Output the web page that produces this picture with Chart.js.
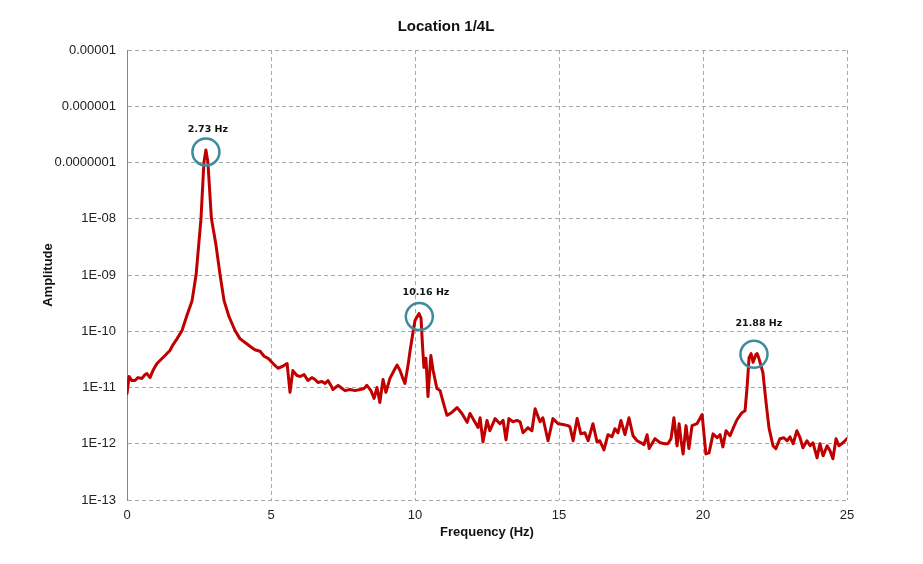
<!DOCTYPE html>
<html>
<head>
<meta charset="utf-8">
<script src="https://cdn.jsdelivr.net/npm/chart.js@4/dist/chart.umd.min.js"></script>
<style>
  html, body { margin: 0; padding: 0; background: #ffffff; }
  #wrap { width: 923px; height: 564px; position: relative; }
</style>
</head>
<body>
<div id="wrap"><canvas id="c" width="923" height="564"></canvas></div>
<script>
const chartTitle = "Location 1/4L";
const xTitle = "Frequency (Hz)";
const yTitle = "Amplitude";

const freqs = [
  0.00,0.07,0.17,0.28,0.38,0.52,0.63,0.69,0.80,0.90,
  1.04,1.18,1.32,1.49,1.60,1.74,1.91,2.08,2.26,2.40,
  2.57,2.67,2.74,2.81,2.93,3.09,3.23,3.37,3.54,3.75,
  3.92,4.10,4.27,4.44,4.62,4.76,4.90,5.07,5.24,5.42,
  5.56,5.66,5.76,5.90,6.01,6.15,6.28,6.42,6.53,6.63,
  6.77,6.88,6.98,7.08,7.15,7.33,7.47,7.57,7.74,7.92,
  8.09,8.23,8.33,8.47,8.58,8.68,8.78,8.89,8.99,9.13,
  9.27,9.38,9.48,9.58,9.65,9.76,9.83,9.93,10.00,10.14,
  10.21,10.26,10.31,10.38,10.45,10.55,10.63,10.76,10.87,11.01,
  11.11,11.28,11.46,11.63,11.81,11.91,12.05,12.19,12.26,12.36,
  12.50,12.60,12.78,12.95,13.06,13.16,13.26,13.40,13.54,13.65,
  13.75,13.92,14.06,14.17,14.34,14.44,14.62,14.79,14.97,15.14,
  15.31,15.38,15.49,15.63,15.76,15.90,16.01,16.18,16.32,16.42,
  16.56,16.70,16.84,16.94,17.05,17.15,17.29,17.43,17.57,17.71,
  17.85,17.95,18.06,18.13,18.33,18.51,18.68,18.78,18.89,18.99,
  19.10,19.17,19.24,19.31,19.41,19.51,19.62,19.79,19.97,20.10,
  20.21,20.35,20.49,20.59,20.69,20.80,20.94,21.04,21.18,21.35,
  21.46,21.53,21.60,21.67,21.74,21.84,21.88,21.94,22.08,22.19,
  22.29,22.43,22.53,22.67,22.81,22.92,23.02,23.13,23.26,23.37,
  23.47,23.61,23.72,23.82,23.96,24.06,24.17,24.31,24.41,24.51,
  24.62,24.72,24.86,25.00
];

const amplitudes = [
  7.8e-12,1.57e-11,1.33e-11,1.33e-11,1.5e-11,1.45e-11,1.7e-11,1.77e-11,1.5e-11,2.0e-11,
  2.67e-11,3.15e-11,3.7e-11,4.55e-11,5.8e-11,7.4e-11,1.03e-10,1.9e-10,3.5e-10,1.02e-9,
  1.02e-8,1.0e-7,1.67e-7,1.0e-7,1.02e-8,3.4e-9,1.02e-9,3.5e-10,1.83e-10,1.03e-10,
  7.4e-11,6.3e-11,5.4e-11,4.7e-11,4.4e-11,3.6e-11,3.3e-11,2.67e-11,2.2e-11,2.4e-11,
  2.67e-11,8.2e-12,2.0e-11,1.63e-11,1.57e-11,1.7e-11,1.33e-11,1.5e-11,1.39e-11,1.23e-11,
  1.28e-11,1.18e-11,1.33e-11,1.09e-11,9.2e-12,1.09e-11,9.6e-12,8.8e-12,9.2e-12,8.8e-12,
  9.2e-12,9.6e-12,1.09e-11,8.8e-12,6.4e-12,1.0e-11,5.4e-12,1.39e-11,8.2e-12,1.45e-11,
  2.0e-11,2.5e-11,2.0e-11,1.45e-11,1.18e-11,2.5e-11,4.55e-11,9.5e-11,1.55e-10,2.07e-10,
  1.7e-10,5.6e-11,2.27e-11,3.3e-11,6.9e-12,3.7e-11,2.0e-11,9.6e-12,8.8e-12,4.8e-12,
  3.2e-12,3.6e-12,4.4e-12,3.45e-12,2.4e-12,3.45e-12,2.6e-12,1.95e-12,2.9e-12,1.08e-12,
  2.6e-12,1.7e-12,2.8e-12,2.27e-12,2.6e-12,1.18e-12,2.8e-12,2.46e-12,2.6e-12,2.46e-12,
  1.57e-12,1.93e-12,1.7e-12,4.2e-12,2.46e-12,2.9e-12,1.13e-12,2.8e-12,2.27e-12,2.2e-12,
  2.1e-12,2.0e-12,1.13e-12,2.8e-12,1.5e-12,1.57e-12,1.13e-12,2.27e-12,1.08e-12,1.13e-12,
  7.8e-13,1.45e-12,1.33e-12,1.85e-12,1.57e-12,2.6e-12,1.45e-12,2.9e-12,1.39e-12,1.13e-12,
  1.04e-12,9.6e-13,1.45e-12,8.2e-13,1.23e-12,1.04e-12,1.0e-12,1.0e-12,1.23e-12,2.9e-12,
  9.2e-13,2.27e-12,1.13e-12,6.6e-13,2.1e-12,8.2e-13,2.1e-12,2.27e-12,3.3e-12,6.6e-13,
  6.9e-13,1.5e-12,1.28e-12,1.45e-12,8.8e-13,1.7e-12,1.39e-12,1.85e-12,2.67e-12,3.56e-12,
  3.86e-12,1.0e-11,3.4e-11,4.0e-11,2.8e-11,3.9e-11,4.0e-11,3.3e-11,1.85e-11,5.4e-12,
  1.93e-12,9.2e-13,8.2e-13,1.23e-12,1.28e-12,1.13e-12,1.33e-12,1.0e-12,1.7e-12,1.28e-12,
  8.5e-13,1.13e-12,9.2e-13,1.04e-12,5.6e-13,1.0e-12,6.1e-13,9.2e-13,7.5e-13,5.4e-13,
  1.23e-12,9.2e-13,1.04e-12,1.23e-12
];

const yTickValues = [1e-13,1e-12,1e-11,1e-10,1e-9,1e-8,1e-7,1e-6,1e-5];
const yTickLabels = ["1E-13","1E-12","1E-11","1E-10","1E-09","1E-08","0.0000001","0.000001","0.00001"];
const xTickValues = [0,5,10,15,20,25];

// peak markers (circle centre and label anchor, in data units)
const peakLabels  = ["2.73 Hz","10.16 Hz","21.88 Hz"];
const circleFreqs = [2.74, 10.15, 21.77];
const circleAmps  = [1.54e-7, 1.82e-10, 3.9e-11];
const labelFreqs  = [2.81, 10.38, 21.94];
const labelAmps   = [3.9e-7, 4.8e-10, 1.35e-10];

const points = freqs.map((f, i) => ({ x: f, y: amplitudes[i] }));

const peakPlugin = {
  id: 'peaks',
  afterDatasetsDraw(chart) {
    const { ctx, scales: { x, y } } = chart;
    ctx.save();
    ctx.strokeStyle = '#3b8c9c';
    ctx.lineWidth = 2.5;
    for (let i = 0; i < peakLabels.length; i++) {
      const cx = x.getPixelForValue(circleFreqs[i]);
      const cy = y.getPixelForValue(circleAmps[i]);
      ctx.beginPath();
      ctx.arc(cx, cy, 13.5, 0, Math.PI * 2);
      ctx.stroke();
      const lx = x.getPixelForValue(labelFreqs[i]);
      const ly = y.getPixelForValue(labelAmps[i]);
      ctx.fillStyle = '#111111';
      ctx.font = 'bold 9.5px "DejaVu Sans", sans-serif';
      ctx.textAlign = 'center';
      ctx.textBaseline = 'middle';
      ctx.fillText(peakLabels[i], lx, ly);
    }
    ctx.restore();
  }
};

const gridColor = '#a8a8a8';
const tickFont = { family: '"Liberation Sans", Arial, sans-serif', size: 13 };
const titleFont = { family: '"Liberation Sans", Arial, sans-serif', size: 13, weight: 'bold' };

new Chart(document.getElementById('c'), {
  type: 'line',
  data: {
    datasets: [{
      data: points,
      borderColor: '#c00000',
      backgroundColor: '#c00000',
      borderWidth: 3,
      pointRadius: 0,
      tension: 0,
      borderJoinStyle: 'round',
      borderCapStyle: 'round',
      fill: false
    }]
  },
  options: {
    responsive: false,
    animation: false,
    events: [],
    layout: { padding: { left: 45, right: 76, top: 10, bottom: 20 } },
    plugins: {
      legend: { display: false },
      tooltip: { enabled: false },
      title: {
        display: true,
        text: chartTitle,
        color: '#111111',
        font: { family: '"Liberation Sans", Arial, sans-serif', size: 15, weight: 'bold' },
        padding: { top: 8, bottom: 14 }
      }
    },
    scales: {
      x: {
        type: 'linear',
        min: 0,
        max: 25,
        afterBuildTicks: (s) => { s.ticks = xTickValues.map(v => ({ value: v })); },
        afterFit: (s) => { s.height = 44; },
        ticks: { color: '#222222', font: tickFont, padding: 8, maxRotation: 0 },
        grid: { color: gridColor, lineWidth: 1, drawTicks: false },
        border: { display: false, dash: [4, 3] },
        title: { display: true, text: xTitle, color: '#111111', font: titleFont, padding: { top: 4, bottom: 4 } }
      },
      y: {
        type: 'logarithmic',
        min: 1e-13,
        max: 1e-5,
        afterBuildTicks: (s) => { s.ticks = yTickValues.map(v => ({ value: v })); },
        afterFit: (s) => { s.width = 82; },
        ticks: {
          color: '#222222',
          font: tickFont,
          padding: 11,
          callback: (v) => {
            const idx = yTickValues.findIndex(t => Math.abs(Math.log10(t) - Math.log10(v)) < 1e-6);
            return idx >= 0 ? yTickLabels[idx] : '';
          }
        },
        grid: { color: gridColor, lineWidth: 1, drawTicks: false },
        border: { display: true, color: '#868686', width: 1, dash: [4, 3] },
        title: { display: true, text: yTitle, color: '#111111', font: titleFont, padding: { top: -4, bottom: 4 } }
      }
    }
  },
  plugins: [peakPlugin]
});
</script>
</body>
</html>
